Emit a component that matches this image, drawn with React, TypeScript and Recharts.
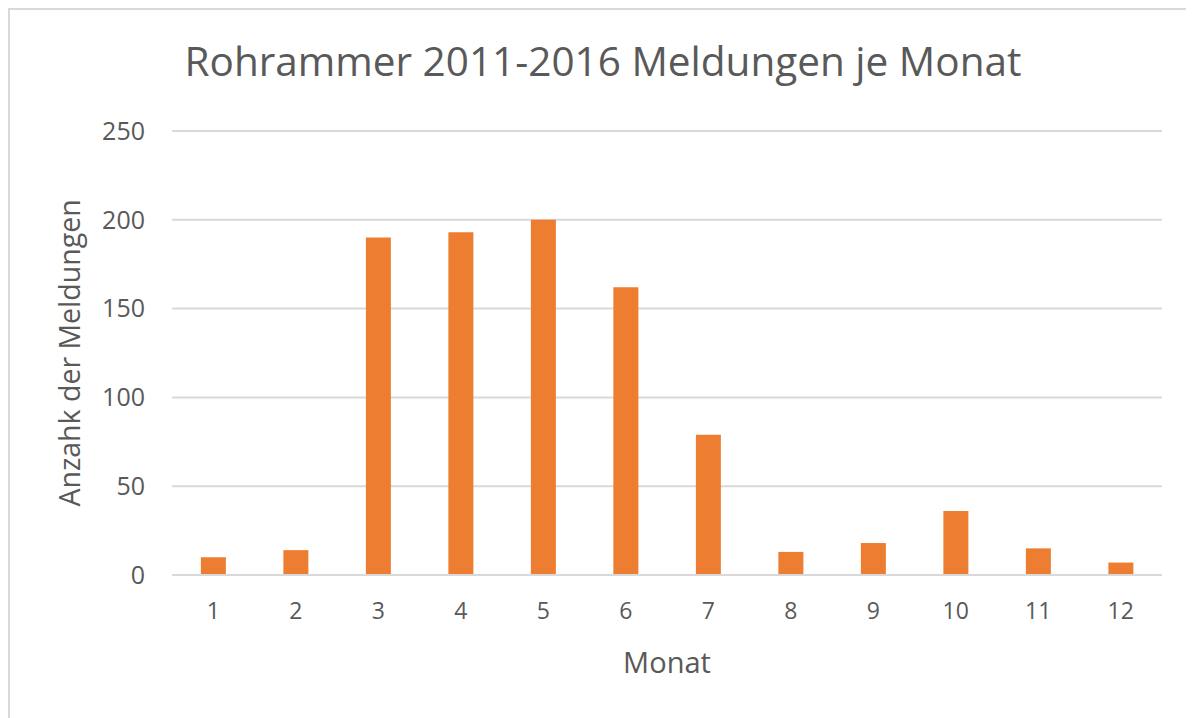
import React from "react"
import { Bar, BarChart, CartesianGrid, XAxis, YAxis } from "recharts"

const months = ["1", "2", "3", "4", "5", "6", "7", "8", "9", "10", "11", "12"]
const reports = [10, 14, 190, 193, 200, 162, 79, 13, 18, 36, 15, 7]
const yTicks = [0, 50, 100, 150, 200, 250]

const data = months.map((m, i) => ({ month: m, count: reports[i] }))

const textColor = "#595959"
const font = "'Open Sans', sans-serif"

export default function App() {
  return (
    <div
      style={{
        position: "relative",
        width: 1176,
        height: 710,
        border: "2px solid #d9d9d9",
        borderBottom: "none",
        fontFamily: font,
        background: "#fff",
      }}
    >
      <div
        style={{
          position: "absolute",
          top: 27,
          left: 0,
          width: 1186,
          textAlign: "center",
          fontSize: 40.5,
          lineHeight: 1.2,
          color: textColor,
        }}
      >
        Rohrammer 2011-2016 Meldungen je Monat
      </div>
      <BarChart
        width={1176}
        height={700}
        data={data}
        margin={{ top: 121, right: 24, bottom: 20, left: 20 }}
        barCategoryGap={"35%"}
      >
        <CartesianGrid
          vertical={false}
          stroke={"#d9d9d9"}
          strokeWidth={2}
        />
        <XAxis
          dataKey={"month"}
          height={115}
          stroke={"#d9d9d9"}
          strokeWidth={2}
          tickLine={false}
          tickSize={0}
          tickMargin={28}
          tick={{ fill: textColor, fontSize: 23, fontFamily: font }}
          label={{
            value: "Monat",
            position: "insideBottom",
            offset: 17,
            fill: textColor,
            fontSize: 29,
            fontFamily: font,
          }}
        />
        <YAxis
          width={142}
          domain={[0, 250]}
          ticks={yTicks}
          axisLine={false}
          tickLine={false}
          tickSize={0}
          tickMargin={27}
          tick={{ fill: textColor, fontSize: 25, fontFamily: font }}
          label={{
            value: "Anzahk der Meldungen",
            angle: -90,
            position: "insideLeft",
            offset: 40,
            fill: textColor,
            fontSize: 28.5,
            fontFamily: font,
            style: { textAnchor: "middle" },
          }}
        />
        <Bar
          dataKey={"count"}
          fill={"#ed7d31"}
          isAnimationActive={false}
        />
      </BarChart>
    </div>
  )
}
